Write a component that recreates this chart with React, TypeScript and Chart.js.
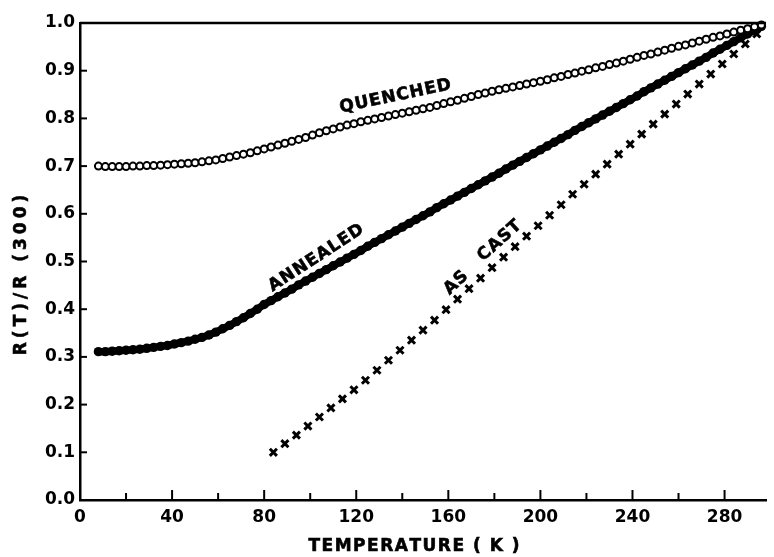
import React, { useEffect, useRef } from "react";
import { Chart, registerables } from "chart.js";

Chart.register(...registerables);

// Temperature grid (K) shared by the QUENCHED and ANNEALED series
const temps = [
  8, 11, 14, 17, 20, 23, 26, 29, 32, 35, 38, 41, 44, 47, 50, 53, 56, 59, 62, 65,
  68, 71, 74, 77, 80, 83, 86, 89, 92, 95, 98, 101, 104, 107, 110, 113, 116, 119, 122, 125,
  128, 131, 134, 137, 140, 143, 146, 149, 152, 155, 158, 161, 164, 167, 170, 173, 176, 179, 182, 185,
  188, 191, 194, 197, 200, 203, 206, 209, 212, 215, 218, 221, 224, 227, 230, 233, 236, 239, 242, 245,
  248, 251, 254, 257, 260, 263, 266, 269, 272, 275, 278, 281, 284, 287, 290, 293, 296,
];

const quenched = [
  0.700, 0.699, 0.699, 0.699, 0.699, 0.700, 0.700, 0.701, 0.701, 0.702,
  0.703, 0.704, 0.705, 0.706, 0.707, 0.709, 0.711, 0.713, 0.716, 0.719,
  0.722, 0.725, 0.728, 0.732, 0.736, 0.740, 0.744, 0.748, 0.752, 0.756,
  0.760, 0.765, 0.770, 0.774, 0.778, 0.782, 0.786, 0.789, 0.793, 0.796,
  0.799, 0.802, 0.805, 0.808, 0.811, 0.814, 0.817, 0.820, 0.823, 0.827,
  0.831, 0.835, 0.838, 0.842, 0.846, 0.850, 0.853, 0.857, 0.860, 0.863,
  0.866, 0.869, 0.872, 0.875, 0.878, 0.881, 0.885, 0.888, 0.892, 0.895,
  0.899, 0.902, 0.906, 0.909, 0.913, 0.916, 0.920, 0.924, 0.928, 0.932,
  0.935, 0.939, 0.943, 0.947, 0.951, 0.954, 0.958, 0.962, 0.966, 0.970,
  0.973, 0.977, 0.981, 0.985, 0.988, 0.992, 0.996,
];

const annealed = [
  0.311, 0.311, 0.312, 0.313, 0.314, 0.315, 0.316, 0.318, 0.320, 0.322,
  0.324, 0.327, 0.330, 0.333, 0.337, 0.341, 0.346, 0.352, 0.359, 0.366,
  0.374, 0.382, 0.391, 0.400, 0.410, 0.418, 0.426, 0.434, 0.442, 0.451,
  0.459, 0.467, 0.475, 0.483, 0.491, 0.499, 0.507, 0.515, 0.523, 0.532,
  0.540, 0.548, 0.556, 0.564, 0.572, 0.580, 0.588, 0.596, 0.604, 0.613,
  0.621, 0.629, 0.637, 0.645, 0.653, 0.661, 0.669, 0.677, 0.685, 0.694,
  0.702, 0.710, 0.718, 0.726, 0.734, 0.742, 0.750, 0.758, 0.766, 0.775,
  0.783, 0.791, 0.799, 0.807, 0.815, 0.823, 0.831, 0.839, 0.847, 0.856,
  0.864, 0.872, 0.880, 0.888, 0.896, 0.904, 0.912, 0.920, 0.928, 0.937,
  0.945, 0.953, 0.961, 0.969, 0.977, 0.985, 0.993,
];

const castTemps = [
  84, 89, 94, 99, 104, 109, 114, 119, 124, 129, 134, 139, 144, 149, 154, 159, 164, 169, 174, 179,
  184, 189, 194, 199, 204, 209, 214, 219, 224, 229, 234, 239, 244, 249, 254, 259, 264, 269, 274, 279,
  284, 289, 294,
];

const asCast = [
  0.100, 0.118, 0.136, 0.155, 0.174, 0.193, 0.212, 0.231, 0.251, 0.272,
  0.293, 0.314, 0.335, 0.356, 0.377, 0.399, 0.421, 0.443, 0.465, 0.487,
  0.509, 0.531, 0.553, 0.575, 0.597, 0.619, 0.641, 0.662, 0.683, 0.704,
  0.725, 0.746, 0.767, 0.788, 0.809, 0.830, 0.851, 0.872, 0.893, 0.914,
  0.935, 0.956, 0.977,
];

// Tick values
const xMajorTicks = [0, 40, 80, 120, 160, 200, 240, 280];
const xMinorTicks = [20, 60, 100, 140, 180, 220, 260];
const yTicks = [0.1, 0.2, 0.3, 0.4, 0.5, 0.6, 0.7, 0.8, 0.9];

// Curve annotations (text, temperature, value, angle in degrees)
const curveLabels = [
  { text: "QUENCHED", t: 137, v: 0.846, angle: -12 },
  { text: "ANNEALED", t: 102.6, v: 0.507, angle: -33 },
  { text: "AS", t: 163.4, v: 0.455, angle: -43 },
  { text: "CAST", t: 182.3, v: 0.543, angle: -42 },
];

const xTitle = "TEMPERATURE ( K )";
const yTitle = "R(T)/R (300)";

const FONT = "'DejaVu Sans', 'Noto Sans', sans-serif";

function drawSpaced(ctx: CanvasRenderingContext2D, text: string, cx: number, cy: number, angle: number, spacing: number, size: number) {
  ctx.save();
  ctx.translate(cx, cy);
  ctx.rotate((angle * Math.PI) / 180);
  ctx.font = `bold ${size}px ${FONT}`;
  ctx.fillStyle = "#000";
  ctx.strokeStyle = "#000";
  ctx.lineWidth = 0.6;
  ctx.textBaseline = "middle";
  ctx.textAlign = "left";
  const chars = Array.from(text);
  const widths = chars.map((c) => ctx.measureText(c).width);
  const total = widths.reduce((a, b) => a + b, 0) + spacing * (chars.length - 1);
  let x = -total / 2;
  chars.forEach((c, i) => {
    ctx.fillText(c, x, 0);
    ctx.strokeText(c, x, 0);
    x += widths[i] + spacing;
  });
  ctx.restore();
}

const decorPlugin = {
  id: "decor",
  afterDraw(chart: any) {
    const { ctx, chartArea, scales } = chart;
    const xs = scales.x;
    const ys = scales.y;
    ctx.save();
    ctx.strokeStyle = "#000";
    ctx.lineCap = "butt";
    // top frame line
    ctx.lineWidth = 2.5;
    ctx.beginPath();
    ctx.moveTo(chartArea.left, ys.getPixelForValue(1));
    ctx.lineTo(chartArea.right, ys.getPixelForValue(1));
    ctx.stroke();
    // inward ticks
    ctx.lineWidth = 2;
    const bottom = ys.getPixelForValue(0);
    const left = xs.getPixelForValue(0);
    xMajorTicks.forEach((t) => {
      if (t === 0) return;
      const px = xs.getPixelForValue(t);
      ctx.beginPath();
      ctx.moveTo(px, bottom);
      ctx.lineTo(px, bottom - 10);
      ctx.stroke();
    });
    xMinorTicks.forEach((t) => {
      const px = xs.getPixelForValue(t);
      ctx.beginPath();
      ctx.moveTo(px, bottom);
      ctx.lineTo(px, bottom - 7);
      ctx.stroke();
    });
    yTicks.forEach((v) => {
      const py = ys.getPixelForValue(v);
      ctx.beginPath();
      ctx.moveTo(left, py);
      ctx.lineTo(left + 7, py);
      ctx.stroke();
    });
    ctx.restore();

    // curve labels
    curveLabels.forEach((l) => {
      drawSpaced(ctx, l.text, xs.getPixelForValue(l.t), ys.getPixelForValue(l.v), l.angle, 1, 17);
    });

    // axis titles
    drawSpaced(ctx, xTitle, 414, 547, 0, 1.5, 17);
    drawSpaced(ctx, yTitle, 22, 275, -90, 4, 17);
  },
};

export default function App() {
  const ref = useRef<HTMLCanvasElement | null>(null);
  useEffect(() => {
    if (!ref.current) return;
    const tickFont = { family: FONT, size: 17, weight: "bold" as const };
    const chart = new Chart(ref.current, {
      type: "scatter",
      data: {
        datasets: [
          {
            label: "QUENCHED",
            data: temps.map((t, i) => ({ x: t, y: quenched[i] })),
            pointStyle: "circle",
            pointRadius: 3.5,
            pointBorderWidth: 2,
            pointBorderColor: "#000",
            pointBackgroundColor: "#fff",
            showLine: false,
            clip: false,
          },
          {
            label: "ANNEALED",
            data: temps.map((t, i) => ({ x: t, y: annealed[i] })),
            pointStyle: "circle",
            pointRadius: 4.7,
            pointBorderWidth: 0,
            pointBackgroundColor: "#000",
            pointBorderColor: "#000",
            showLine: true,
            borderColor: "#000",
            borderWidth: 7.5,
            tension: 0,
            clip: false,
          },
          {
            label: "AS CAST",
            data: castTemps.map((t, i) => ({ x: t, y: asCast[i] })),
            pointStyle: "crossRot",
            pointRadius: 5,
            pointBorderWidth: 3,
            pointBorderColor: "#000",
            pointBackgroundColor: "#000",
            showLine: false,
            clip: false,
          },
        ],
      },
      options: {
        animation: false,
        responsive: false,
        devicePixelRatio: 1,
        events: [],
        layout: { padding: { top: 23, right: 0, left: 0, bottom: 0 } },
        plugins: {
          legend: { display: false },
          tooltip: { enabled: false },
          title: { display: false },
        },
        scales: {
          x: {
            type: "linear",
            position: "bottom",
            min: 0,
            max: 298,
            afterFit: (s: any) => {
              s.height = 57;
            },
            ticks: {
              stepSize: 40,
              includeBounds: false,
              autoSkip: false,
              maxRotation: 0,
              padding: 7,
              color: "#000",
              font: tickFont,
            },
            grid: { drawOnChartArea: false, drawTicks: false },
            border: { display: true, color: "#000", width: 2.5 },
          },
          y: {
            type: "linear",
            min: 0,
            max: 1,
            afterFit: (s: any) => {
              s.width = 80;
            },
            ticks: {
              stepSize: 0.1,
              includeBounds: false,
              autoSkip: false,
              padding: 5,
              color: "#000",
              font: tickFont,
              callback: (v: any) => Number(v).toFixed(1),
            },
            grid: { drawOnChartArea: false, drawTicks: false },
            border: { display: true, color: "#000", width: 2.5 },
          },
        },
      },
      plugins: [decorPlugin],
    });
    return () => chart.destroy();
  }, []);
  return (
    <div style={{ position: "fixed", left: 0, top: 0, width: 774, height: 557, background: "#fff" }}>
      <canvas ref={ref} width={774} height={557} style={{ display: "block" }} />
    </div>
  );
}
